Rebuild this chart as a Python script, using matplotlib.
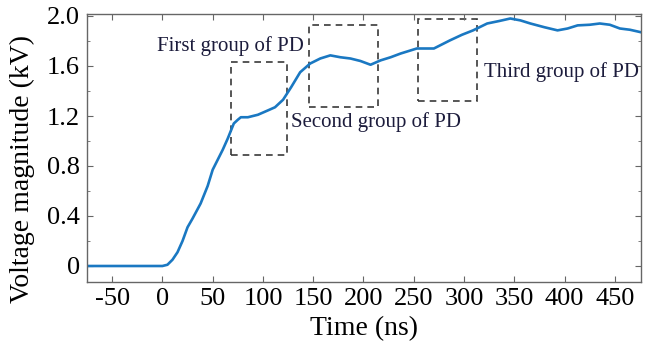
import matplotlib
matplotlib.use("Agg")
import matplotlib.pyplot as plt
from matplotlib.patches import Rectangle
from matplotlib.ticker import MultipleLocator

plt.rcParams['font.family'] = ['Liberation Serif', 'DejaVu Serif']
plt.rcParams['axes.unicode_minus'] = False

# Data
time_ns = [-75, -50, -25, 0, 5, 10, 15, 20, 25, 30, 38, 45, 50, 55, 60, 65, 68, 71, 75, 78,
           85, 95, 105, 112, 120, 128, 137, 147, 157, 167, 177, 187, 197, 207, 217,
           227, 237, 253, 270, 286, 298, 309, 323, 335, 346, 356, 366, 380, 393, 403,
           413, 425, 435, 445, 455, 465, 476]
voltage_kv = [0.0, 0.0, 0.0, 0.0, 0.01, 0.05, 0.11, 0.2, 0.31, 0.38, 0.5, 0.64, 0.77, 0.85,
              0.93, 1.02, 1.08, 1.14, 1.17, 1.19, 1.19, 1.21, 1.245, 1.27, 1.33, 1.43, 1.55,
              1.62, 1.66, 1.685, 1.67, 1.66, 1.64, 1.61, 1.645, 1.67, 1.70, 1.74, 1.74,
              1.805, 1.85, 1.885, 1.94, 1.96, 1.98, 1.965, 1.94, 1.91, 1.885, 1.90, 1.925,
              1.93, 1.94, 1.93, 1.90, 1.89, 1.87]

# Dashed boxes: (t0, t1, v0, v1)
boxes = [(68.6, 124, 0.886, 1.63), (146, 214, 1.27, 1.93), (254.5, 313, 1.32, 1.98)]
labels = ["First group of PD", "Second group of PD", "Third group of PD"]
label_pos = [(-5, 1.76), (128, 1.15), (320, 1.55)]

xticks = [-50, 0, 50, 100, 150, 200, 250, 300, 350, 400, 450]
yticks = [0, 0.4, 0.8, 1.2, 1.6, 2.0]
yticklabels = ["0", "0.4", "0.8", "1.2", "1.6", "2.0"]

fig = plt.figure(figsize=(6.46, 3.43), dpi=100)
ax = fig.add_axes([87/646, 1 - 282/343, (641-87)/646, (282-14)/343])

ax.plot(time_ns, voltage_kv, color='#1a78c2', linewidth=1.9)

for (t0, t1, v0, v1) in boxes:
    ax.add_patch(Rectangle((t0, v0), t1 - t0, v1 - v0, fill=False,
                           edgecolor='#3a3a3a', linestyle=(0, (4, 3)), linewidth=1.2))

for txt, (tx, ty) in zip(labels, label_pos):
    ax.text(tx, ty, txt, fontsize=15, color='#1c1c3c', ha='left', va='center')

ax.set_xlim(-75, 476)
ax.set_ylim(-0.128, 2.016)
ax.set_xticks(xticks)
ax.set_yticks(yticks)
ax.set_yticklabels(yticklabels)
ax.yaxis.set_minor_locator(MultipleLocator(0.2))
ax.tick_params(direction='in', top=True, right=True, length=4, color='#666666')
ax.tick_params(axis='x', labelsize=19, pad=4)
ax.tick_params(axis='y', labelsize=19, pad=5)
ax.tick_params(which='minor', direction='in', right=True, length=2, color='#666666')
for s in ax.spines.values():
    s.set_color('#666666')
    s.set_linewidth(1.0)

ax.set_xlabel("Time (ns)", fontsize=20, labelpad=5)
ax.set_ylabel("Voltage magnitude (kV)", fontsize=20)
ax.yaxis.set_label_coords(-52/554, 0.42)

fig.savefig("out.png", dpi=100)
